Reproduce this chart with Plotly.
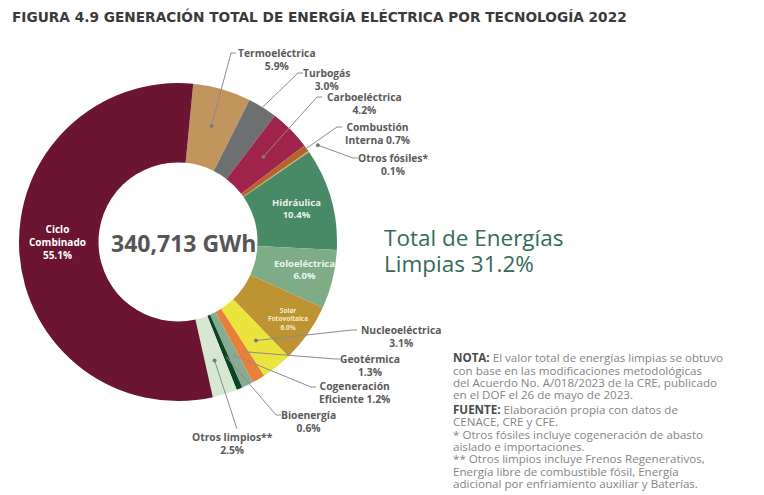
import math
import plotly.graph_objects as go

# Generation shares by technology, listed clockwise starting at the top of the ring
technologies = [
    "Termoeléctrica", "Turbogás", "Carboeléctrica", "Combustión Interna",
    "Otros fósiles*", "Hidráulica", "Eoloeléctrica", "Solar Fotovoltaica",
    "Nucleoeléctrica", "Geotérmica", "Cogeneración Eficiente", "Bioenergía",
    "Otros limpios**", "Ciclo Combinado",
]
shares = [5.9, 3.0, 4.2, 0.7, 0.1, 10.4, 6.0, 6.0, 3.1, 1.3, 1.2, 0.6, 2.5, 55.1]
colors = [
    "#c2955e", "#6d6f71", "#a0234b", "#b5632e", "#cfa862", "#498a66", "#7eac86",
    "#be9332", "#ebe43c", "#e8803a", "#88ab94", "#0d4325", "#d6e7d2", "#6b1532",
]
total_gwh = "340,713 GWh"
clean_total = 31.2

W, H = 764, 495
CX, CY, R = 178, 242, 159        # ring centre and outer radius, in pixels
ROTATION = 5.5

LABEL_FONT = "Open Sans"
GREY_TEXT = "#5a5a5a"
LINE_GREY = "#8c8c8c"

fig = go.Figure()

fig.add_trace(go.Pie(
    labels=technologies,
    values=shares,
    marker=dict(colors=colors, line=dict(width=0)),
    hole=0.5,
    sort=False,
    direction="clockwise",
    rotation=ROTATION,
    textinfo="none",
    hoverinfo="skip",
    showlegend=False,
    domain=dict(
        x=[(CX - R) / W, (CX + R) / W],
        y=[(H - CY - R) / H, (H - CY + R) / H],
    ),
))


def mid_angle(i):
    before = sum(shares[:i])
    return ROTATION + (before + shares[i] / 2) / sum(shares) * 360


def ring_point(i, frac):
    a = math.radians(mid_angle(i))
    return CX + frac * R * math.sin(a), CY - frac * R * math.cos(a)


def pct(i):
    return f"{shares[i]:.1f}%"


# Outside labels: (index, radius fraction of anchor, elbow point, label centre, text, draw dot)
outside = [
    (0, 0.76, (231, 53), (277, 59), f"{technologies[0]}<br>{pct(0)}", True),
    (1, 1.0, (298, 73), (326, 79), f"{technologies[1]}<br>{pct(1)}", False),
    (2, 0.76, (317, 97), (364, 103), f"{technologies[2]}<br>{pct(2)}", True),
    (3, 1.0, (337, 127), (377, 133), f"Combustión<br>Interna {pct(3)}", False),
    (4, 1.07, (353, 158), (393, 164), f"{technologies[4]}<br>{pct(4)}", True),
    (8, 0.79, (352, 330), (401, 336), f"{technologies[8]}<br>{pct(8)}", True),
    (9, 0.8, (335, 359), (370, 365), f"{technologies[9]}<br>{pct(9)}", False),
    (10, 0.79, (311, 387), (354, 392), f"Cogeneración<br>Eficiente {pct(10)}", False),
    (11, 0.78, (276, 415), (308, 421), f"{technologies[11]}<br>{pct(11)}", False),
    (12, 0.78, (237, 429), (232, 443), f"{technologies[12]}<br>{pct(12)}", True),
]

shapes = []
annotations = []
for idx, frac, elbow, centre, text, dot in outside:
    px, py = ring_point(idx, frac)
    ex, ey = elbow
    if idx == 12:
        path = f"M {px:.1f},{py:.1f} L {ex},{ey}"
    else:
        path = f"M {px:.1f},{py:.1f} L {ex},{ey} L {ex + 5},{ey}"
    shapes.append(dict(type="path", path=path, xref="x", yref="y",
                       line=dict(color=LINE_GREY, width=1)))
    if dot:
        shapes.append(dict(type="circle", xref="x", yref="y",
                           x0=px - 2, x1=px + 2, y0=py - 2, y1=py + 2,
                           fillcolor="#7a7a7a", line=dict(width=0)))
    annotations.append(dict(
        x=centre[0], y=centre[1], xref="x", yref="y", text=f"<b>{text}</b>",
        showarrow=False, xanchor="center", yanchor="middle", align="center",
        font=dict(family=LABEL_FONT, size=10.3, color=GREY_TEXT),
    ))

# Labels drawn inside the ring
inside = [
    (13, (57, 242), f"Ciclo<br>Combinado<br>{pct(13)}", 10, "#ffffff"),
    (5, (296, 208), f"{technologies[5]}<br>{pct(5)}", 9.5, "#e8f2ea"),
    (6, (304, 269), f"{technologies[6]}<br>{pct(6)}", 9.5, "#eef5ee"),
    (7, (288, 319), f"Solar<br>Fotovoltaica<br>{pct(7)}", 6.5, "#f6ecc8"),
]
for idx, pos, text, size, col in inside:
    annotations.append(dict(
        x=pos[0], y=pos[1], xref="x", yref="y", text=f"<b>{text}</b>",
        showarrow=False, xanchor="center", yanchor="middle", align="center",
        font=dict(family=LABEL_FONT, size=size, color=col),
    ))

# Total generation in the hole
annotations.append(dict(
    x=183, y=243, xref="x", yref="y", text=f"<b>{total_gwh}</b>",
    showarrow=False, xanchor="center", yanchor="middle",
    font=dict(family=LABEL_FONT, size=23, color="#555555"),
))

# Clean-energy total, two lines
for text, y in [("Total de Energías", 237), (f"Limpias {clean_total:.1f}%", 263)]:
    annotations.append(dict(
        x=382, y=y, xref="x", yref="y", text=text,
        showarrow=False, xanchor="left", yanchor="middle", align="left",
        font=dict(family=LABEL_FONT, size=22.5, color="#356b57"),
    ))

# Title
annotations.append(dict(
    x=10, y=16, xref="x", yref="y",
    text="<b>FIGURA 4.9 GENERACIÓN TOTAL DE ENERGÍA ELÉCTRICA POR TECNOLOGÍA 2022</b>",
    showarrow=False, xanchor="left", yanchor="middle",
    font=dict(family="DejaVu Sans", size=13.7, color="#3a3a3a"),
))

# Notes block
note_lines = [
    ("<b>NOTA:</b> El valor total de energías limpias se obtuvo", 357),
    ("con base en las modificaciones metodológicas", 370),
    ("del Acuerdo No. A/018/2023 de la CRE, publicado", 382),
    ("en el DOF el 26 de mayo de 2023.", 394),
    ("<b>FUENTE:</b> Elaboración propia con datos de", 409),
    ("CENACE, CRE y CFE.", 421),
    ("* Otros fósiles incluye cogeneración de abasto", 434),
    ("aislado e importaciones.", 446),
    ("** Otros limpios incluye Frenos Regenerativos,", 458),
    ("Energía libre de combustible fósil, Energía", 471),
    ("adicional por enfriamiento auxiliar y Baterías.", 483),
]
for text, y in note_lines:
    text = text.replace("<b>", "<b><span style='color:#4a4a4a'>").replace("</b>", "</span></b>")
    annotations.append(dict(
        x=451, y=y, xref="x", yref="y", text=text,
        showarrow=False, xanchor="left", yanchor="middle",
        font=dict(family=LABEL_FONT, size=11.6, color="#858585"),
    ))

fig.update_layout(
    width=W, height=H,
    margin=dict(l=0, r=0, t=0, b=0),
    paper_bgcolor="white", plot_bgcolor="rgba(0,0,0,0)",
    xaxis=dict(range=[0, W], visible=False, fixedrange=True, domain=[0, 1]),
    yaxis=dict(range=[H, 0], visible=False, fixedrange=True, domain=[0, 1]),
    shapes=shapes,
    annotations=annotations,
    hovermode=False,
)

fig.write_html("out.html", config={"displayModeBar": False})
